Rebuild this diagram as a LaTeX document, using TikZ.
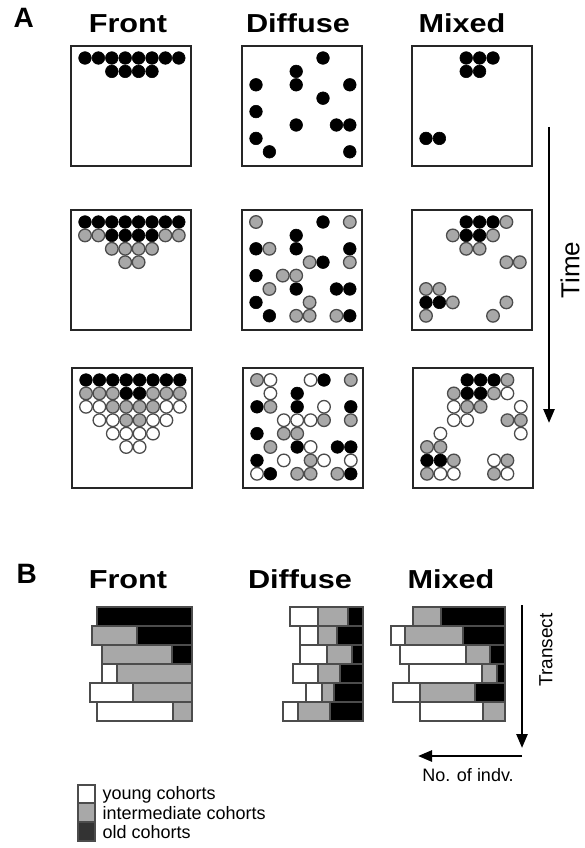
\documentclass[tikz,border=0pt]{standalone}
\usepackage{fontspec}
\setmainfont{Liberation Sans}
\usetikzlibrary{arrows.meta}
\definecolor{midgray}{gray}{0.66}
\definecolor{rim}{gray}{0.3}
\definecolor{oldgray}{gray}{0.2}
\tikzset{
  panel/.style={draw=black!85,line width=2.2pt},
  old/.style={fill=black,draw=black,line width=0.6pt},
  mid/.style={fill=midgray,draw=rim,line width=1.3pt},
  young/.style={fill=white,draw=rim,line width=1.3pt},
  head/.style={font=\fontsize{26}{30}\selectfont\bfseries,xscale=1.18,anchor=base},
  letter/.style={font=\fontsize{28}{32}\selectfont\bfseries,anchor=base west},
  bar/.style={draw=rim,line width=1.2pt},
  axis/.style={line width=2.6pt,-{Triangle[length=14pt,width=11pt]}},
  note/.style={font=\fontsize{18}{21}\selectfont},
}
% one cohort class in a box: list of col/row pairs
\newcommand\cohort[2]{\foreach \c/\r in {#2} \draw[#1] ({14+13.4*\c},{12+13.4*\r}) circle (6.3);}
% one bar segment of panel B
\newcommand\seg[4]{\draw[bar,fill=#1] (#2,#4) rectangle (#3,{#4+19});}
\begin{document}
\begin{tikzpicture}[x=1pt,y=-1pt]
  \useasboundingbox (0,0) rectangle (584,848);
  % panel A
  \node[letter] (labA) at (10,28) {A};
  \node[head] (hdFront) at (128,33) {Front};
  \node[head] (hdDiffuse) at (298,33) {Diffuse};
  \node[head] (hdMixed) at (462,33) {Mixed};
  % front
  \begin{scope}[shift={(71,46)}]
    \draw[panel] (0,0) rectangle (120,120);
    \cohort{old}{0/0,1/0,2/0,3/0,4/0,5/0,6/0,7/0,2/1,3/1,4/1,5/1}
  \end{scope}
  \begin{scope}[shift={(71,210)}]
    \draw[panel] (0,0) rectangle (120,120);
    \cohort{old}{0/0,1/0,2/0,3/0,4/0,5/0,6/0,7/0,2/1,3/1,4/1,5/1}
    \cohort{mid}{0/1,1/1,6/1,7/1,2/2,3/2,4/2,5/2,3/3,4/3}
  \end{scope}
  \begin{scope}[shift={(72,368)}]
    \draw[panel] (0,0) rectangle (120,120);
    \cohort{old}{0/0,1/0,2/0,3/0,4/0,5/0,6/0,7/0,3/1,4/1}
    \cohort{mid}{0/1,1/1,2/1,5/1,6/1,7/1,2/2,3/2,4/2,5/2,3/3,4/3}
    \cohort{young}{0/2,1/2,6/2,7/2,1/3,2/3,5/3,6/3,2/4,3/4,4/4,5/4,3/5,4/5}
  \end{scope}
  % diffuse
  \begin{scope}[shift={(242,46)}]
    \draw[panel] (0,0) rectangle (120,120);
    \cohort{old}{5/0,3/1,0/2,3/2,7/2,5/3,0/4,3/5,6/5,7/5,0/6,1/7,7/7}
  \end{scope}
  \begin{scope}[shift={(242,210)}]
    \draw[panel] (0,0) rectangle (120,120);
    \cohort{old}{5/0,3/1,0/2,3/2,7/2,5/3,0/4,3/5,6/5,7/5,0/6,1/7,7/7}
    \cohort{mid}{0/0,7/0,1/2,4/3,7/3,2/4,3/4,1/5,4/6,3/7,4/7,6/7}
  \end{scope}
  \begin{scope}[shift={(243,368)}]
    \draw[panel] (0,0) rectangle (120,120);
    \cohort{old}{5/0,3/1,0/2,3/2,7/2,0/4,3/5,6/5,7/5,0/6,1/7,7/7}
    \cohort{mid}{0/0,7/0,1/2,5/3,7/3,2/4,3/4,1/5,4/6,3/7,4/7,6/7}
    \cohort{young}{1/0,4/0,1/1,5/2,2/3,3/3,4/3,4/5,2/6,5/6,7/6,0/7}
  \end{scope}
  % mixed
  \begin{scope}[shift={(412,46)}]
    \draw[panel] (0,0) rectangle (120,120);
    \cohort{old}{3/0,4/0,5/0,3/1,4/1,0/6,1/6}
  \end{scope}
  \begin{scope}[shift={(412,210)}]
    \draw[panel] (0,0) rectangle (120,120);
    \cohort{old}{3/0,4/0,5/0,3/1,4/1,0/6,1/6}
    \cohort{mid}{6/0,2/1,5/1,3/2,4/2,6/3,7/3,0/5,1/5,2/6,6/6,0/7,5/7}
  \end{scope}
  \begin{scope}[shift={(413,368)}]
    \draw[panel] (0,0) rectangle (120,120);
    \cohort{old}{3/0,4/0,5/0,3/1,4/1,0/6,1/6}
    \cohort{mid}{6/0,2/1,5/1,3/2,4/2,6/3,7/3,0/5,1/5,2/6,6/6,0/7,5/7}
    \cohort{young}{6/1,2/2,7/2,2/3,3/3,1/4,7/4,5/6,1/7,2/7,6/7}
  \end{scope}
  % time axis
  \coordinate (timeTop) at (549,127);
  \coordinate (timeEnd) at (549,423);
  \draw[axis] (timeTop) -- (timeEnd);
  \node[font=\fontsize{26}{30}\selectfont,rotate=90] (timeLab) at (570,270) {Time};

  % panel B
  \node[letter] (labB) at (13,583) {B};
  \node[head] (hdFrontB) at (128,588) {Front};
  \node[head] (hdDiffuseB) at (300,588) {Diffuse};
  \node[head] (hdMixedB) at (451,588) {Mixed};
  % front bars
  \seg{black}{97}{192}{607}
  \seg{midgray}{92}{137}{626} \seg{black}{137}{192}{626}
  \seg{midgray}{102}{172}{645} \seg{black}{172}{192}{645}
  \seg{white}{102}{117}{664} \seg{midgray}{117}{192}{664}
  \seg{white}{90}{133}{683} \seg{midgray}{133}{192}{683}
  \seg{white}{97}{173}{702} \seg{midgray}{173}{192}{702}
  % diffuse bars
  \seg{white}{290}{318}{607} \seg{midgray}{318}{348}{607} \seg{black}{348}{363}{607}
  \seg{white}{300}{318}{626} \seg{midgray}{318}{337}{626} \seg{black}{337}{363}{626}
  \seg{white}{300}{327}{645} \seg{midgray}{327}{352}{645} \seg{black}{352}{363}{645}
  \seg{white}{293}{318}{664} \seg{midgray}{318}{340}{664} \seg{black}{340}{363}{664}
  \seg{white}{306}{322}{683} \seg{midgray}{322}{334}{683} \seg{black}{334}{363}{683}
  \seg{white}{283}{298}{702} \seg{midgray}{298}{330}{702} \seg{black}{330}{363}{702}
  % mixed bars
  \seg{midgray}{413}{441}{607} \seg{black}{441}{505}{607}
  \seg{white}{391}{405}{626} \seg{midgray}{405}{463}{626} \seg{black}{463}{505}{626}
  \seg{white}{400}{466}{645} \seg{midgray}{466}{490}{645} \seg{black}{490}{505}{645}
  \seg{white}{409}{482}{664} \seg{midgray}{482}{497}{664} \seg{black}{497}{505}{664}
  \seg{white}{393}{420}{683} \seg{midgray}{420}{475}{683} \seg{black}{475}{505}{683}
  \seg{white}{420}{483}{702} \seg{midgray}{483}{505}{702}
  % transect and count axes
  \coordinate (trTop) at (522,605);
  \coordinate (trEnd) at (522,748);
  \draw[axis] (trTop) -- (trEnd);
  \node[font=\fontsize{19}{22}\selectfont,rotate=90] (trLab) at (546,650) {Transect};
  \coordinate (nStart) at (522,756);
  \coordinate (nEnd) at (418,756);
  \draw[axis] (nStart) -- (nEnd);
  \node[note] (nLab) at (468,775) {No. of indv.};
  % legend
  \draw[bar,fill=white] (78,785) rectangle (95,803);
  \draw[bar,fill=midgray] (78,803) rectangle (95,822);
  \draw[bar,fill=oldgray] (78,822) rectangle (95,841);
  \node[note,anchor=west] (lgYoung) at (99,795) {young cohorts};
  \node[note,anchor=west] (lgMid) at (99,813) {intermediate cohorts};
  \node[note,anchor=west] (lgOld) at (99,832) {old cohorts};
\end{tikzpicture}
\end{document}
